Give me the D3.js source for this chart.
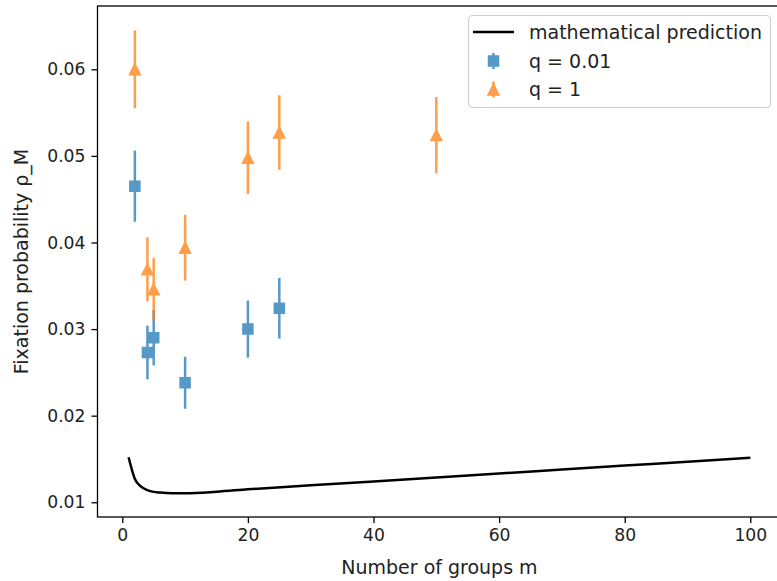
<!DOCTYPE html>
<html lang="en">
<head>
<meta charset="UTF-8">
<title>Fixation probability</title>
<script src="https://d3js.org/d3.v7.min.js"></script>
<style>
  body { margin: 0; background: #fff; }
  svg { display: block; font-family: "DejaVu Sans", sans-serif; }
</style>
</head>
<body>
<div id="chart"></div>
<script>
// mathematical prediction curve
const predM   = [1, 2, 3, 4, 5, 6, 8, 10, 15, 20, 30, 40, 50, 60, 70, 80, 90, 100];
const predRho = [0.0152, 0.0127, 0.0118, 0.0114, 0.0112, 0.01112, 0.01104, 0.01104, 0.01122,
                 0.0115, 0.01196, 0.01241, 0.01287, 0.01332, 0.01378, 0.01424, 0.01469, 0.01515];

// simulations, q = 0.01
const lowM   = [2, 4, 5, 10, 20, 25];
const lowRho = [0.0465, 0.0273, 0.0290, 0.0238, 0.0300, 0.0324];
const lowErr = [0.0041, 0.0031, 0.0032, 0.0030, 0.0033, 0.0035];

// simulations, q = 1
const highM   = [2, 4, 5, 10, 20, 25, 50];
const highRho = [0.0600, 0.0369, 0.0346, 0.0394, 0.0498, 0.0527, 0.0524];
const highErr = [0.0045, 0.0037, 0.0036, 0.0038, 0.0042, 0.0043, 0.0044];

const yTicks = [0.01, 0.02, 0.03, 0.04, 0.05, 0.06];
const xTicks = [0, 20, 40, 60, 80, 100];

const W = 777, H = 581;
const pLeft = 97.5, pRight = 781.4, pTop = 6, pBottom = 517;
const blue = "#1f77b4", orange = "#ff7f0e";
const tickFs = 17.2, labFs = 19;

const svg = d3.select("#chart").append("svg")
  .attr("width", W).attr("height", H);

const x = d3.scaleLinear().domain([-3.95, 104.95]).range([pLeft, pRight]);
const y = d3.scaleLinear().domain([0.0083, 0.06731]).range([pBottom, pTop]);

// axes
const xAxis = svg.append("g")
  .attr("transform", `translate(0,${pBottom})`)
  .call(d3.axisBottom(x).tickValues(xTicks).tickFormat(d3.format("d"))
    .tickSize(6).tickPadding(6).tickSizeOuter(0));
const yAxis = svg.append("g")
  .attr("transform", `translate(${pLeft},0)`)
  .call(d3.axisLeft(y).tickValues(yTicks).tickFormat(d3.format(".2f"))
    .tickSize(6).tickPadding(6).tickSizeOuter(0));
[xAxis, yAxis].forEach(g => {
  g.select(".domain").remove();
  g.selectAll("line").attr("stroke", "#000").attr("stroke-width", 1.3);
  g.selectAll("text").attr("font-size", tickFs).attr("fill", "#222")
    .attr("font-family", "DejaVu Sans, sans-serif");
});

// frame
svg.append("rect")
  .attr("x", pLeft).attr("y", pTop)
  .attr("width", pRight - pLeft).attr("height", pBottom - pTop)
  .attr("fill", "none").attr("stroke", "#000").attr("stroke-width", 1.3);

// prediction line
const pred = predM.map((m, i) => ({m, r: predRho[i]}));
svg.append("path")
  .datum(pred)
  .attr("d", d3.line().x(d => x(d.m)).y(d => y(d.r)).curve(d3.curveMonotoneX))
  .attr("fill", "none").attr("stroke", "#000").attr("stroke-width", 2.5);

function errSeries(ms, rs, es, color, shape) {
  const data = ms.map((m, i) => ({m, r: rs[i], e: es[i]}));
  const g = svg.append("g").attr("opacity", 0.75);
  g.selectAll("line").data(data).join("line")
    .attr("x1", d => x(d.m)).attr("x2", d => x(d.m))
    .attr("y1", d => y(d.r - d.e)).attr("y2", d => y(d.r + d.e))
    .attr("stroke", color).attr("stroke-width", 2.5);
  g.selectAll("path").data(data).join("path")
    .attr("transform", d => `translate(${x(d.m)},${y(d.r)})`)
    .attr("d", shape)
    .attr("fill", color).attr("stroke", color).attr("stroke-width", 1.5)
    .attr("stroke-linejoin", "miter");
}
const sq = "M-5,-5H5V5H-5Z";
const tri = "M0,-5.5L5.5,5.5L-5.5,5.5Z";
errSeries(lowM, lowRho, lowErr, blue, sq);
errSeries(highM, highRho, highErr, orange, tri);

// legend
const lg = svg.append("g");
lg.append("rect")
  .attr("x", 468.5).attr("y", 15.5).attr("width", 302).attr("height", 92)
  .attr("rx", 4).attr("fill", "#fff").attr("fill-opacity", 0.8)
  .attr("stroke", "#d0d0d0").attr("stroke-width", 1.2);
const rows = ["mathematical prediction", "q = 0.01", "q = 1"];
const rowY = [32, 61, 89.5];
lg.append("line").attr("x1", 473).attr("x2", 514).attr("y1", rowY[0]).attr("y2", rowY[0])
  .attr("stroke", "#000").attr("stroke-width", 2.5);
[[blue, sq], [orange, tri]].forEach(([c, s], i) => {
  const cy = rowY[i + 1];
  const h = lg.append("g").attr("opacity", 0.75);
  h.append("line").attr("x1", 493.5).attr("x2", 493.5).attr("y1", cy - 8).attr("y2", cy + 8)
    .attr("stroke", c).attr("stroke-width", 2.5);
  h.append("path").attr("transform", `translate(493.5,${cy})`).attr("d", s)
    .attr("fill", c).attr("stroke", c).attr("stroke-width", 1.5);
});
lg.selectAll("text.lab").data(rows).join("text")
  .attr("class", "lab")
  .attr("x", 529).attr("y", (d, i) => rowY[i])
  .attr("dy", "0.35em").attr("font-size", labFs).attr("fill", "#222")
  .text(d => d);

// axis titles
svg.append("text")
  .attr("x", (pLeft + pRight) / 2).attr("y", 567)
  .attr("text-anchor", "middle").attr("dy", "0.35em")
  .attr("font-size", labFs).attr("fill", "#222")
  .text("Number of groups m");
svg.append("text")
  .attr("transform", `translate(21,${(pTop + pBottom) / 2}) rotate(-90)`)
  .attr("text-anchor", "middle").attr("dy", "0.35em")
  .attr("font-size", labFs).attr("fill", "#222")
  .text("Fixation probability ρ_M");
</script>
</body>
</html>
